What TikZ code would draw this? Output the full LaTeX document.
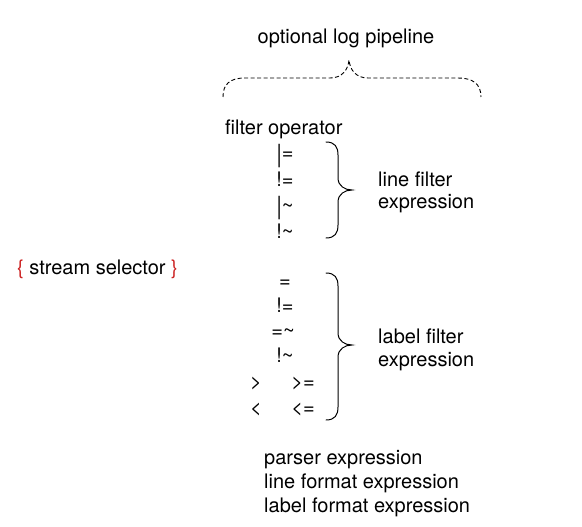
\documentclass[tikz,border=0pt]{standalone}
\usepackage{fontspec}
\setmainfont{TeX Gyre Heros}
\definecolor{selred}{RGB}{204,34,34}
\newcommand{\tallbar}{\raisebox{-2pt}{\scalebox{1}[1.25]{\textbar}}}

\begin{document}
\begin{tikzpicture}[x=1pt,y=-1pt,txt/.style={font=\fontsize{20}{24}\selectfont,inner sep=0pt},op/.style={txt,anchor=base},lbl/.style={txt,anchor=base west},brc/.style={line width=1pt,line cap=round},pipe/.style={line width=0.9pt,dash pattern=on 4pt off 2.5pt}]
\def\bx{326};
\def\vx{338};
\def\tx{352};
\def\ca{285};
\def\cl{256};
\def\cr{303};

\useasboundingbox (0,0) rectangle (582,527);

% optional pipeline
\node[op] (pipe) at (346,44) {optional log pipeline};
\coordinate (pl) at (223,97);
\coordinate (ptip) at (349,60);
\coordinate (pr) at (481,97);
\draw[pipe] (pl) .. controls (223,84) and (230,78) .. (245,78) -- (330,78) .. controls (342,78) and (348,70) .. (ptip)
  .. controls (350,70) and (356,78) .. (368,78) -- (458,78) .. controls (473,78) and (481,84) .. (pr);

% stream selector
\node[lbl] (sel) at (17,274) {{\color{selred}\{} stream selector {\color{selred}\}}};

% line filter
\node[lbl] (fop) at (225,135) {filter operator};
\node[op] (ne1) at (\ca,160) {\tallbar=};
\node[op] (ne2) at (\ca,186) {!=};
\node[op] (re1) at (\ca,212) {\tallbar\textasciitilde};
\node[op] (re2) at (\ca,238) {!\textasciitilde};
\coordinate (lft) at (\bx,142);
\coordinate (lfm) at (\tx,190);
\coordinate (lfb) at (\bx,238);
\draw[brc] (lft) .. controls (335,142) and (\vx,147) .. (\vx,155) -- (\vx,178) .. controls (\vx,186) and (345,190) .. (lfm)
  .. controls (345,190) and (\vx,194) .. (\vx,202) -- (\vx,225) .. controls (\vx,233) and (335,238) .. (lfb);
\node[lbl] (lf1) at (378,186) {line filter};
\node[lbl] (lf2) at (378,208) {expression};

% label filter
\node[op] (eq) at (\ca,287) {=};
\node[op] (neq) at (\ca,312) {!=};
\node[op] (req) at (283,337) {=\textasciitilde};
\node[op] (nre) at (\ca,362) {!\textasciitilde};
\node[op] (gt) at (\cl,388) {>};
\node[op] (ge) at (\cr,388) {>=};
\node[op] (lt) at (\cl,414) {<};
\node[op] (le) at (\cr,414) {<=};
\coordinate (lbt) at (\bx,273);
\coordinate (lbm) at (\tx,345);
\coordinate (lbb) at (\bx,420);
\draw[brc] (lbt) .. controls (335,273) and (\vx,278) .. (\vx,286) -- (\vx,333) .. controls (\vx,341) and (345,345) .. (lbm)
  .. controls (345,345) and (\vx,349) .. (\vx,357) -- (\vx,407) .. controls (\vx,415) and (335,420) .. (lbb);
\node[lbl] (lb1) at (378,343) {label filter};
\node[lbl] (lb2) at (378,366) {expression};

% formatting stages
\node[lbl] (prs) at (264,464) {parser expression};
\node[lbl] (lfmt) at (264,488) {line format expression};
\node[lbl] (lbfmt) at (264,512) {label format expression};
\end{tikzpicture}
\end{document}
